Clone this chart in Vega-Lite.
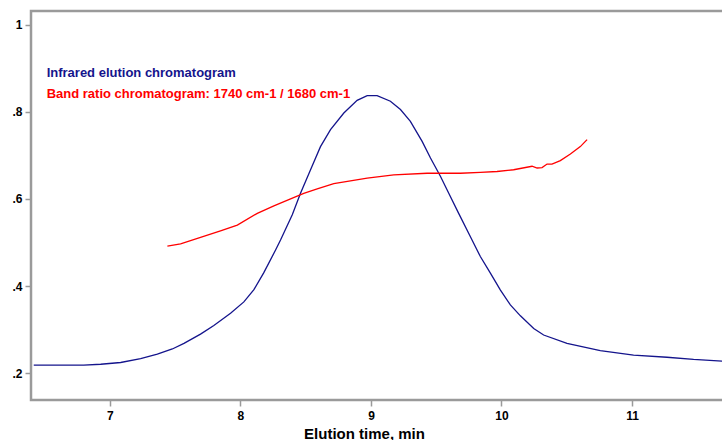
{
  "$schema": "https://vega.github.io/schema/vega-lite/v6.json",
  "width": 693,
  "height": 389,
  "autosize": {"type": "none"},
  "padding": {"left": 31, "top": 11, "right": 0, "bottom": 40},
  "background": "white",
  "config": {
    "view": {"stroke": "#9a9a9a", "strokeWidth": 2.5},
    "font": "Liberation Sans"
  },
  "datasets": {
    "curves": [
      {"series": "ir", "t": 6.416, "v": 0.219},
      {"series": "ir", "t": 6.799, "v": 0.219},
      {"series": "ir", "t": 6.929, "v": 0.221},
      {"series": "ir", "t": 7.082, "v": 0.225},
      {"series": "ir", "t": 7.235, "v": 0.234},
      {"series": "ir", "t": 7.363, "v": 0.244},
      {"series": "ir", "t": 7.478, "v": 0.256},
      {"series": "ir", "t": 7.567, "v": 0.269},
      {"series": "ir", "t": 7.694, "v": 0.290},
      {"series": "ir", "t": 7.796, "v": 0.310},
      {"series": "ir", "t": 7.924, "v": 0.338},
      {"series": "ir", "t": 8.026, "v": 0.364},
      {"series": "ir", "t": 8.103, "v": 0.392},
      {"series": "ir", "t": 8.179, "v": 0.431},
      {"series": "ir", "t": 8.269, "v": 0.483},
      {"series": "ir", "t": 8.307, "v": 0.506},
      {"series": "ir", "t": 8.397, "v": 0.564},
      {"series": "ir", "t": 8.460, "v": 0.613},
      {"series": "ir", "t": 8.537, "v": 0.667},
      {"series": "ir", "t": 8.613, "v": 0.720},
      {"series": "ir", "t": 8.690, "v": 0.759},
      {"series": "ir", "t": 8.792, "v": 0.797},
      {"series": "ir", "t": 8.894, "v": 0.826},
      {"series": "ir", "t": 8.971, "v": 0.837},
      {"series": "ir", "t": 9.047, "v": 0.837},
      {"series": "ir", "t": 9.149, "v": 0.824},
      {"series": "ir", "t": 9.226, "v": 0.805},
      {"series": "ir", "t": 9.302, "v": 0.778},
      {"series": "ir", "t": 9.392, "v": 0.732},
      {"series": "ir", "t": 9.456, "v": 0.694},
      {"series": "ir", "t": 9.532, "v": 0.652},
      {"series": "ir", "t": 9.596, "v": 0.613},
      {"series": "ir", "t": 9.672, "v": 0.567},
      {"series": "ir", "t": 9.761, "v": 0.514},
      {"series": "ir", "t": 9.838, "v": 0.468},
      {"series": "ir", "t": 9.915, "v": 0.430},
      {"series": "ir", "t": 9.992, "v": 0.391},
      {"series": "ir", "t": 10.068, "v": 0.357},
      {"series": "ir", "t": 10.145, "v": 0.332},
      {"series": "ir", "t": 10.247, "v": 0.303},
      {"series": "ir", "t": 10.323, "v": 0.288},
      {"series": "ir", "t": 10.502, "v": 0.269},
      {"series": "ir", "t": 10.757, "v": 0.252},
      {"series": "ir", "t": 11.012, "v": 0.242},
      {"series": "ir", "t": 11.268, "v": 0.237},
      {"series": "ir", "t": 11.472, "v": 0.232},
      {"series": "ir", "t": 11.700, "v": 0.228},
      {"series": "ratio", "t": 7.440, "v": 0.492},
      {"series": "ratio", "t": 7.541, "v": 0.497},
      {"series": "ratio", "t": 7.694, "v": 0.512},
      {"series": "ratio", "t": 7.847, "v": 0.527},
      {"series": "ratio", "t": 7.976, "v": 0.540},
      {"series": "ratio", "t": 8.129, "v": 0.567},
      {"series": "ratio", "t": 8.256, "v": 0.584},
      {"series": "ratio", "t": 8.384, "v": 0.600},
      {"series": "ratio", "t": 8.485, "v": 0.613},
      {"series": "ratio", "t": 8.588, "v": 0.623},
      {"series": "ratio", "t": 8.715, "v": 0.635},
      {"series": "ratio", "t": 8.971, "v": 0.648},
      {"series": "ratio", "t": 9.175, "v": 0.655},
      {"series": "ratio", "t": 9.430, "v": 0.659},
      {"series": "ratio", "t": 9.685, "v": 0.659},
      {"series": "ratio", "t": 9.838, "v": 0.661},
      {"series": "ratio", "t": 9.966, "v": 0.663},
      {"series": "ratio", "t": 10.093, "v": 0.667},
      {"series": "ratio", "t": 10.234, "v": 0.675},
      {"series": "ratio", "t": 10.273, "v": 0.671},
      {"series": "ratio", "t": 10.311, "v": 0.672},
      {"series": "ratio", "t": 10.349, "v": 0.680},
      {"series": "ratio", "t": 10.387, "v": 0.680},
      {"series": "ratio", "t": 10.451, "v": 0.688},
      {"series": "ratio", "t": 10.528, "v": 0.703},
      {"series": "ratio", "t": 10.604, "v": 0.720},
      {"series": "ratio", "t": 10.656, "v": 0.736}
    ],
    "labels": [
      {"series": "ir", "t": 6.515, "v": 0.889, "label": "Infrared elution chromatogram"},
      {"series": "ratio", "t": 6.515, "v": 0.840, "label": "Band ratio chromatogram: 1740 cm-1 / 1680 cm-1"}
    ]
  },
  "layer": [
    {
      "data": {"name": "curves"},
      "mark": {"type": "line", "strokeWidth": 1.3, "clip": true},
      "encoding": {
        "x": {
          "field": "t", "type": "quantitative",
          "scale": {"domain": [6.395, 11.705], "nice": false, "zero": false},
          "axis": {
            "values": [7, 8, 9, 10, 11],
            "format": "d",
            "title": "Elution time, min",
            "titleFont": "Liberation Sans", "titleFontSize": 15, "titleFontWeight": "bold",
            "titleColor": "black", "titleX": 333, "titleY": 41, "titleBaseline": "bottom",
            "labelFont": "Liberation Sans", "labelFontSize": 12, "labelFontWeight": "bold",
            "labelColor": "black", "labelPadding": 4,
            "domain": false, "grid": false,
            "tickColor": "#9a9a9a", "tickSize": 6, "tickWidth": 1.5
          }
        },
        "y": {
          "field": "v", "type": "quantitative",
          "scale": {"domain": [0.139, 1.031], "nice": false, "zero": false},
          "axis": {
            "values": [0.2, 0.4, 0.6, 0.8, 1],
            "labelExpr": "datum.value >= 0.99 ? '1' : replace(format(datum.value, '.1f'), '0.', '.')",
            "title": null,
            "labelFont": "Liberation Sans", "labelFontSize": 12, "labelFontWeight": "bold",
            "labelColor": "black", "labelPadding": 3,
            "domain": false, "grid": false,
            "tickColor": "#9a9a9a", "tickSize": 6, "tickWidth": 1.5
          }
        },
        "color": {
          "field": "series", "type": "nominal",
          "scale": {"domain": ["ir", "ratio"], "range": ["#14148c", "#ff0000"]},
          "legend": null
        },
        "order": {"field": "t", "type": "quantitative"}
      }
    },
    {
      "data": {"name": "labels"},
      "mark": {"type": "text", "align": "left", "baseline": "middle", "font": "Liberation Sans", "fontSize": 13, "fontWeight": "bold"},
      "encoding": {
        "x": {"field": "t", "type": "quantitative"},
        "y": {"field": "v", "type": "quantitative"},
        "text": {"field": "label"},
        "color": {"field": "series", "type": "nominal", "legend": null}
      }
    }
  ]
}
